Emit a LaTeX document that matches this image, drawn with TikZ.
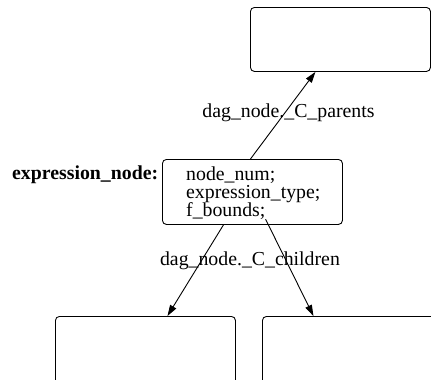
\documentclass[tikz,border=0pt]{standalone}
\usepackage{fontspec}
\setmainfont{Liberation Serif}
\usetikzlibrary{arrows.meta}
\tikzset{
    struct-box/.style = {draw, rectangle, rounded corners=4pt, line width=0.9pt, minimum width=180pt, minimum height=64pt, inner sep=0pt, anchor=north west},
    field-text/.style = {inner sep=0pt, anchor=base west},
    link-label/.style = {inner sep=0pt, anchor=base},
    ptr-arrow/.style = {-{Triangle[length=11pt,width=7pt]}, line width=0.9pt},
}

\begin{document}
\begin{tikzpicture}[x=1pt, y=-1pt, font=\fontsize{19.8}{18}\selectfont]
\useasboundingbox (0,0) rectangle (431,380);
\clip (0,0) rectangle (431,380);
\node[struct-box] (parent) at (250,7) {};
\node[struct-box, minimum height=65pt] (expr) at (162,159) {};
\node[struct-box, minimum height=90pt] (lchild) at (55,316) {};
\node[struct-box, minimum height=90pt] (rchild) at (262,316) {};
\node[field-text] (title) at (12,179) {\bfseries expression\_node:};
\node[field-text] (fnum) at (186,180) {node\_num;};
\node[field-text] (ftype) at (186,198) {expression\_type;};
\node[field-text] (fbounds) at (186,216) {f\_bounds;};
\node[link-label] (plabel) at (288.5,117.5) {dag\_node.\_C\_parents};
\node[link-label] (clabel) at (250,265.5) {dag\_node.\_C\_children};
% pointers
\draw[ptr-arrow] ([xshift=-2pt]expr.north) -- ([xshift=-25pt]parent.south);
\draw[ptr-arrow] ([xshift=-29pt]expr.south) -- ([xshift=22pt]lchild.north);
\draw[ptr-arrow] (fbounds.south east) -- ([xshift=-39pt]rchild.north);
\end{tikzpicture}
\end{document}
